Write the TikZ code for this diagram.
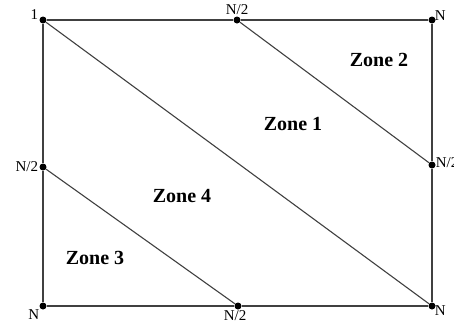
\documentclass[tikz,border=0pt]{standalone}
\usepackage{fontspec}
\setmainfont{Liberation Serif}
\usetikzlibrary{positioning}

\begin{document}
\begin{tikzpicture}[x=1pt,y=-1pt,node distance=1pt,
  dot/.style={circle,fill=black,inner sep=0pt,minimum size=7pt},
  edge/.style={line width=1.1pt,draw=black!75},
  corner/.style={font=\fontsize{15}{17}\selectfont,inner sep=1pt},
  zone/.style={font=\fontsize{20}{24}\selectfont\bfseries}]
\useasboundingbox (0,0) rectangle (454,330);
% corners and mid points
\node[dot] (tl) at (43,20) {};
\node[dot] (tm) at (237,20) {};
\node[dot] (tr) at (432,20) {};
\node[dot] (lm) at (43,167) {};
\node[dot] (rm) at (432,165) {};
\node[dot] (bl) at (43,306) {};
\node[dot] (bm) at (238,306) {};
\node[dot] (br) at (432,306) {};
% frame and diagonals
\draw[edge] (tl) -- (tm) -- (tr) -- (rm) -- (br) -- (bm) -- (bl) -- (lm) -- (tl);
\draw[edge] (tl) -- (br);
\draw[edge] (tm) -- (rm);
\draw[edge] (lm) -- (bm);
% point labels
\node[corner] (ntl) [above left=-3pt and 1pt of tl] {1};
\node[corner] (ntm) [above=0pt of tm] {N/2};
\node[corner] (ntr) [above right=-4pt and -1pt of tr] {N};
\node[corner] (nlm) [left=0pt of lm] {N/2};
\node[corner] (nrm) [right=-1pt of rm,yshift=2pt] {N/2};
\node[corner] (nbl) [below left=0pt and 0pt of bl] {N};
\node[corner] (nbm) [below=0pt of bm,xshift=-3pt] {N/2};
\node[corner] (nbr) [below right=-4pt and -1pt of br] {N};
% zones
\node[zone] (z2) at (379,60) {Zone 2};
\node[zone] (z1) at (293,124) {Zone 1};
\node[zone] (z4) at (182,196) {Zone 4};
\node[zone] (z3) at (95,258) {Zone 3};
\end{tikzpicture}
\end{document}
